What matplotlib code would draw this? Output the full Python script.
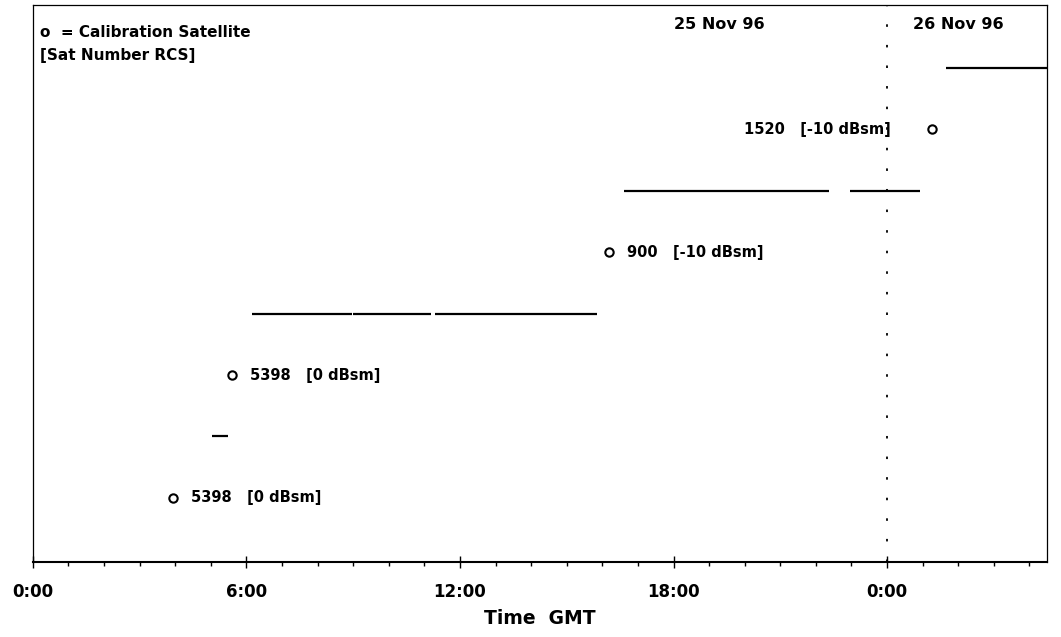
import matplotlib.pyplot as plt
from matplotlib.ticker import MultipleLocator

plt.rcParams['font.family'] = ['DejaVu Sans']

# observation passes (hours GMT from 0:00 25 Nov, level)
pass_start = [5.03, 6.16, 8.99, 11.30, 16.61, 22.96, 25.66]
pass_end = [5.48, 8.97, 11.19, 15.85, 22.37, 24.93, 28.6]
pass_level = [2, 4, 4, 4, 6, 6, 8]

# calibration satellites
cal_time = [3.93, 5.59, 16.19, 25.27]
cal_level = [1, 3, 5, 7]
cal_label = ['5398   [0 dBsm]', '5398   [0 dBsm]', '900   [-10 dBsm]', '1520   [-10 dBsm]']
cal_label_x = [4.44, 6.10, 16.70, 24.09]
cal_label_ha = ['left', 'left', 'left', 'right']

tick_pos = [0, 6, 12, 18, 24]
tick_labels = ['0:00', '6:00', '12:00', '18:00', '0:00']
day_break = 24

fig = plt.figure(figsize=(10.61, 6.37), dpi=100)
ax = fig.add_axes([0.031, 0.118, 0.956, 0.874])

ax.hlines(pass_level, pass_start, pass_end, color='black', lw=1.6)
ax.plot(cal_time, cal_level, 'o', ms=6, mfc='white', mec='black', mew=1.5)
for x, y, s, ha in zip(cal_label_x, cal_level, cal_label, cal_label_ha):
    ax.text(x, y, s, ha=ha, va='center', fontsize=10.5, fontweight='bold')

ax.axvline(day_break, color='black', lw=1.3, ls=(0, (1.4, 10)))

ax.text(19.3, 8.7, '25 Nov 96', ha='center', va='center', fontsize=11.5, fontweight='bold')
ax.text(26.0, 8.7, '26 Nov 96', ha='center', va='center', fontsize=11.5, fontweight='bold')
ax.text(0.2, 8.57, 'o  = Calibration Satellite', ha='left', va='center',
        fontsize=11, fontweight='bold')
ax.text(0.2, 8.2, '[Sat Number RCS]', ha='left', va='center',
        fontsize=11, fontweight='bold')

ax.set_xlim(0, 28.5)
ax.set_ylim(-0.04, 9.02)
ax.set_xticks(tick_pos)
ax.set_xticklabels(tick_labels, fontsize=12, fontweight='bold')
ax.xaxis.set_minor_locator(MultipleLocator(1))
ax.tick_params(axis='x', which='major', direction='inout', length=8, width=1, pad=11)
ax.tick_params(axis='x', which='minor', direction='out', length=3, width=1)
ax.set_yticks([])
ax.set_xlabel('Time  GMT', fontsize=13.5, fontweight='bold', labelpad=6)
for sp in ax.spines.values():
    sp.set_linewidth(0.9)
ax.spines['bottom'].set_linewidth(1.5)

fig.savefig('out.png', dpi=100)
